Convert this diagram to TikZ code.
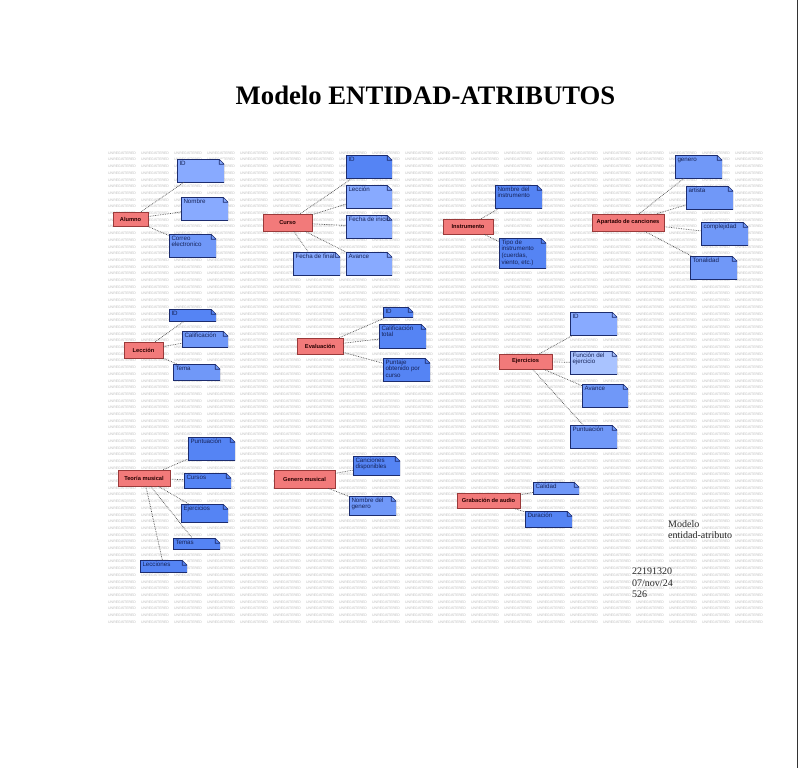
\documentclass[tikz,border=0pt]{standalone}
\usepackage{fontspec}
\setmainfont{Liberation Serif}
\newfontfamily\arialf{Liberation Sans}
\definecolor{entfill}{HTML}{F27A7A}
\definecolor{entbd}{HTML}{9A3A3A}
\definecolor{notebd}{HTML}{1C2C6E}
\definecolor{nlight}{HTML}{88AAFF}
\definecolor{nmed}{HTML}{7098F8}
\definecolor{ndark}{HTML}{5584F4}
\definecolor{nvlight}{HTML}{A9C3FF}
\definecolor{wmgray}{HTML}{BCBCBC}
\newcommand\nt[3]{\vbox to #2pt{\kern1.4pt\hbox to #1pt{\hspace{2.3pt}\begin{tabular}[t]{@{}l@{}}#3\end{tabular}\hss}\vss}}
\tikzset{
  ent/.style={draw=entbd, fill=entfill, line width=0.6pt, inner sep=0pt,
    font=\arialf\bfseries\fontsize{5.7}{6.5}\selectfont, text=black!85!red},
  note/.style={anchor=north west, inner sep=0pt, fill=#1,
    font=\arialf\fontsize{6.2}{6.7}\selectfont, text=notebd!80!black,
    path picture={
      \fill[white] (path picture bounding box.north east) -- ([xshift=-5pt]path picture bounding box.north east) -- ([yshift=-5pt]path picture bounding box.north east) -- cycle;
      \draw[notebd, line width=1.3pt] ([xshift=-5pt]path picture bounding box.north east) -- (path picture bounding box.north west) -- (path picture bounding box.south west) -- (path picture bounding box.south east) -- ([yshift=-5pt]path picture bounding box.north east);
      \draw[notebd, line width=0.6pt] ([xshift=-5pt]path picture bounding box.north east) -- ([yshift=-5pt]path picture bounding box.north east) -- ([xshift=-5pt,yshift=-5pt]path picture bounding box.north east) -- cycle;
    }},
  link/.style={draw=black!70, densely dotted, line width=0.7pt},
  wm/.style={anchor=west, inner sep=0pt, text=wmgray, font=\arialf\fontsize{3.5}{4}\selectfont}
}
\begin{document}
\begin{tikzpicture}[x=1pt,y=-1pt]
\useasboundingbox (0,0) rectangle (799,768);
\fill[white] (0,0) rectangle (799,768);
% watermark
\begin{scope}
\clip (108,149) rectangle (767,626);
\foreach \r in {0,...,70}{
  \foreach \c in {0,...,19}{
    \node[wm] (w\r-\c) at ({108+\c*33},{153+\r*6.7}) {UNREGISTERED};
  }
}
\end{scope}
\draw[black!80, line width=1.4pt] (797.5,0) -- (797.5,768);
% title
\node[font=\bfseries\fontsize{26.7}{30}\selectfont] (title) at (425.5,95) {Modelo ENTIDAD-ATRIBUTOS};
% entities
\node[ent, minimum width=35pt, minimum height=14pt] (alumno) at (130.5,219) {Alumno};
\node[ent, minimum width=49pt, minimum height=17pt] (curso) at (287.5,222.5) {Curso};
\node[ent, minimum width=50pt, minimum height=15pt] (instr) at (468,226.5) {Instrumento};
\node[ent, minimum width=72pt, minimum height=17pt] (apart) at (628,222.5) {Apartado de canciones};
\node[ent, minimum width=39pt, minimum height=16pt] (leccion) at (143.5,350) {Lección};
\node[ent, minimum width=46pt, minimum height=16pt] (evalu) at (320,346) {Evaluación};
\node[ent, minimum width=53pt, minimum height=15pt] (ejerc) at (525.5,361.5) {Ejercicios};
\node[ent, minimum width=52pt, minimum height=16pt] (teoria) at (144,478) {Teoría musical};
\node[ent, minimum width=61pt, minimum height=18pt] (genero) at (304.5,479) {Genero musical};
\node[ent, minimum width=63pt, minimum height=15pt] (grab) at (488.5,500.5) {Grabación de audio};
% attributes: Alumno
\node[note=nlight] (a1) at (177,159) {\nt{47}{23}{ID}};
\node[note=nlight] (a2) at (181,197) {\nt{47}{23}{Nombre}};
\node[note=nmed] (a3) at (169,234) {\nt{47}{23}{Correo\\electronico}};
% Curso
\node[note=ndark] (c1) at (346,155) {\nt{46}{23}{ID}};
\node[note=nlight] (c2) at (346,185) {\nt{46}{23}{Lección}};
\node[note=nlight] (c3) at (346,215) {\nt{46}{23}{Fecha de inicio}};
\node[note=nlight] (c4) at (346,252) {\nt{46}{23}{Avance}};
\node[note=nlight] (c5) at (293,252) {\nt{47}{23}{Fecha de final}};
% Instrumento
\node[note=ndark] (i1) at (495,185) {\nt{47}{23}{Nombre del\\instrumento}};
\node[note=ndark] (i2) at (499,238) {\nt{47}{30}{Tipo de\\instrumento\\(cuerdas,\\viento, etc.)}};
% Apartado de canciones
\node[note=nmed] (p1) at (675,155) {\nt{47}{23}{genero}};
\node[note=nmed] (p2) at (686,186) {\nt{47}{23}{artista}};
\node[note=nmed] (p3) at (701,222) {\nt{47}{23}{complejidad}};
\node[note=nmed] (p4) at (690,256) {\nt{47}{23}{Tonalidad}};
% Leccion
\node[note=ndark] (l1) at (169,309) {\nt{47}{12}{ID}};
\node[note=nmed] (l2) at (182,331) {\nt{46}{16}{Calificación}};
\node[note=nmed] (l3) at (173,364) {\nt{47}{16}{Tema}};
% Evaluacion
\node[note=ndark] (e1) at (383,307) {\nt{30}{10}{ID}};
\node[note=ndark] (e2) at (379,324) {\nt{47}{24}{Calificación\\total}};
\node[note=ndark] (e3) at (383,358) {\nt{47}{23}{Puntaje\\obtenido por\\curso}};
% Ejercicios
\node[note=nlight] (j1) at (570,312) {\nt{47}{23}{ID}};
\node[note=nvlight] (j2) at (570,351) {\nt{47}{23}{Función del\\ejercicio}};
\node[note=nmed] (j3) at (582,384) {\nt{46}{23}{Avance}};
\node[note=nmed] (j4) at (570,425) {\nt{47}{23}{Puntuación}};
% Teoria musical
\node[note=ndark] (t1) at (188,437) {\nt{47}{23}{Puntuación}};
\node[note=ndark] (t2) at (184,473) {\nt{47}{15}{Cursos}};
\node[note=ndark] (t3) at (181,504) {\nt{47}{18}{Ejercicios}};
\node[note=ndark] (t4) at (173,538) {\nt{47}{11}{Temas}};
\node[note=ndark] (t5) at (140,560) {\nt{47}{12}{Lecciones}};
% Genero musical
\node[note=ndark] (g1) at (353,456) {\nt{47}{19}{Canciones\\disponibles}};
\node[note=nmed] (g2) at (349,496) {\nt{47}{19}{Nombre del\\genero}};
% Grabacion de audio
\node[note=nmed] (r1) at (533,482) {\nt{46}{12}{Calidad}};
\node[note=ndark] (r2) at (525,511) {\nt{47}{16}{Duración}};
% connectors
\foreach \e/\a in {alumno/a1,alumno/a2,alumno/a3,
  curso/c1,curso/c2,curso/c3,curso/c4,curso/c5,
  instr/i1,instr/i2,
  apart/p1,apart/p2,apart/p3,apart/p4,
  leccion/l1,leccion/l2,leccion/l3,
  evalu/e1,evalu/e2,evalu/e3,
  ejerc/j1,ejerc/j2,ejerc/j3,ejerc/j4,
  teoria/t1,teoria/t2,teoria/t3,teoria/t4,teoria/t5,
  genero/g1,genero/g2,
  grab/r1,grab/r2}{
  \draw[link] (\e) -- (\a);
}
% side texts
\node[anchor=north west, inner sep=0pt, align=left, font=\fontsize{10}{11.5}\selectfont, text=black!85] (lbl) at (668,520) {Modelo\\entidad-atributo};
\node[anchor=north west, inner sep=0pt, align=left, font=\fontsize{10}{11.5}\selectfont, text=black!85] (info) at (632,568) {22191320\\07/nov/24\\526};
\end{tikzpicture}
\end{document}
